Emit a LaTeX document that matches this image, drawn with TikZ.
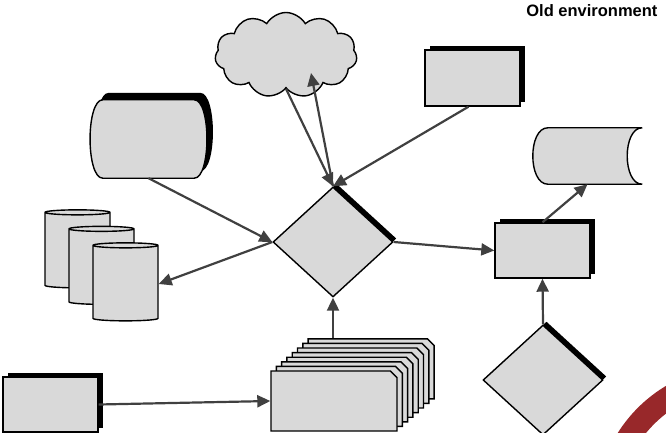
\documentclass[tikz,border=0pt]{standalone}
\usepackage{fontspec}
\setmainfont{Liberation Sans}
\usetikzlibrary{arrows.meta, positioning, shapes.geometric, shapes.misc, shapes.symbols, shadows}
\definecolor{boxgray}{HTML}{D9D9D9}
\definecolor{topgray}{HTML}{E8E8E8}
\definecolor{linegray}{HTML}{404040}
\definecolor{arcred}{RGB}{152,40,42}
\tikzset{%
	part/.style={
		draw,
		fill=boxgray,
		line width=1.4pt
	},
	boxshadow/.style={
		drop shadow={shadow xshift=5pt, shadow yshift=4pt, fill=black, opacity=1}
	},
	diamondshadow/.style={
		drop shadow={shadow xshift=3.5pt, shadow yshift=3.5pt, fill=black, opacity=1}
	},
	stylebox/.style={
		part, boxshadow,
		minimum width=95pt,
		minimum height=55pt
	},
	decision/.style={
		part, diamond, diamondshadow,
		minimum width=120pt,
		minimum height=110pt,
		inner sep=0pt
	},
	drum/.style={
		part, cylinder, shape border rotate=90, aspect=0.75,
		cylinder uses custom fill,
		cylinder body fill=boxgray,
		cylinder end fill=topgray,
		minimum width=65pt,
		minimum height=78pt
	},
	page/.style={
		part, chamfered rectangle,
		chamfered rectangle corners=north east,
		chamfered rectangle xsep=8pt,
		chamfered rectangle ysep=8pt,
		minimum width=126pt,
		minimum height=60pt
	},
	flow/.style={
		draw=linegray,
		line width=2.2pt,
		-{Triangle[length=13pt, width=12pt]}
	},
}

\begin{document}
\begin{tikzpicture}[x=1pt, y=-1pt]
	\useasboundingbox (0,0) rectangle (666,433);
	\clip (0,0) rectangle (666,433);

	\draw[arcred, line width=23pt] (740,510) circle[radius=133];

	\node[anchor=base east, font=\bfseries\fontsize{16.5}{19}\selectfont] (title) at (661,17) {Old environment};

	\node[part, cloud, cloud puffs=11, cloud puff arc=120, aspect=1.7, minimum width=142pt, minimum height=85pt, inner sep=0pt] (cloud) at (286,55) {};
	\node[stylebox, minimum height=56pt] (topbox) at (472.5,78) {};

	% terminal
	\node[minimum width=123pt, minimum height=78pt, inner sep=0pt] (terminal) at (148.5,139) {};
	\draw[part, drop shadow={shadow xshift=6pt, shadow yshift=7pt, fill=black, opacity=1}]
		([xshift=16pt]terminal.north west) -- ([xshift=-16pt]terminal.north east)
		.. controls +(17,0) and +(17,0) .. ([xshift=-16pt]terminal.south east)
		-- ([xshift=16pt]terminal.south west)
		.. controls +(-17,0) and +(-17,0) .. ([xshift=16pt]terminal.north west) -- cycle;

	\node[drum] (cyl1) at (77.5,251) {};
	\node[drum] (cyl2) at (101.5,267.5) {};
	\node[drum] (cyl3) at (125.5,284) {};

	\node[decision] (diamond) at (333,242) {};
	\node[decision] (diamond2) at (543,380) {};

	\node[stylebox] (endbox) at (542.5,250.5) {};
	\node[stylebox] (srcbox) at (50.5,404.5) {};

	% stored data
	\node[minimum width=109pt, minimum height=56pt, inner sep=0pt] (store) at (587.5,156) {};
	\draw[part] (store.north east) .. controls +(-20,0) and +(-20,0) .. (store.south east)
		-- ([xshift=15pt]store.south west) .. controls +(-20,0) and +(-20,0) .. ([xshift=15pt]store.north west) -- cycle;

	% stack of pages
	\foreach \i in {7,...,0}
		\node[page] (page\i) at (334+5.3*\i, 401-4.6*\i) {};

	\draw[flow] (cloud.south) -- (diamond.north);
	\draw[flow] (diamond.north) -- ([xshift=25pt, yshift=-18pt]cloud.center);
	\draw[flow] ([xshift=-4pt]topbox.south) -- (diamond.north);
	\draw[flow] (terminal.south) -- (diamond.west);
	\draw[flow] (diamond.west) -- (cyl3.east);
	\draw[flow] (diamond.east) -- (endbox.west);
	\draw[flow] (endbox.north) -- (store.south);
	\draw[flow] (diamond2.north) -- (endbox.south);
	\draw[flow] (diamond.south |- page7.north) -- (diamond.south);
	\draw[flow] (srcbox.east) -- (page0.west);
\end{tikzpicture}
\end{document}
